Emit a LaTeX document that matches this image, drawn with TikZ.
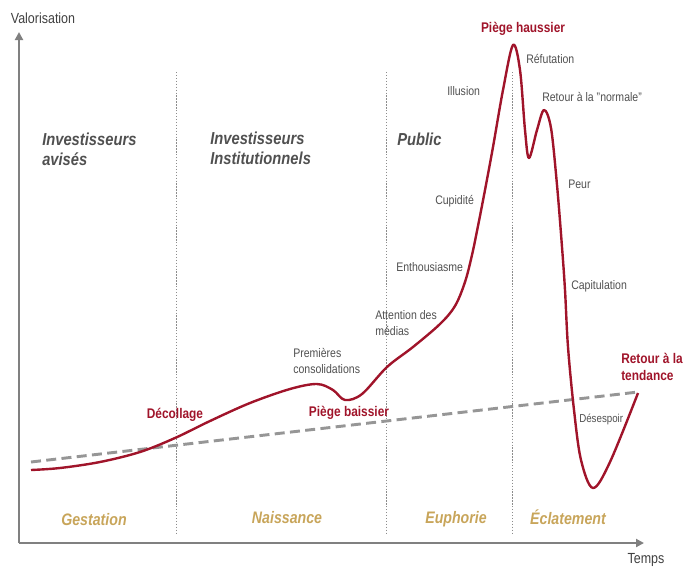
\documentclass[tikz,border=0pt]{standalone}
\usepackage{fontspec}
\setmainfont{Liberation Sans}[FakeStretch=0.85]
\usetikzlibrary{arrows.meta}
\definecolor{axisgray}{RGB}{128,128,128}
\definecolor{trendgray}{RGB}{150,150,150}
\definecolor{curvered}{RGB}{160,20,42}
\definecolor{labelgray}{RGB}{80,80,80}
\definecolor{gold}{RGB}{200,165,90}
\definecolor{dotgray}{RGB}{140,140,140}
\tikzset{
  axisline/.style={draw=axisgray, line width=1.9pt, -{Triangle[width=6pt,length=6pt]}},
  sepline/.style={draw=dotgray, line width=0.6pt, dash pattern=on 1pt off 1.2pt},
  trendline/.style={draw=trendgray, line width=2.2pt, dash pattern=on 7.5pt off 4pt},
  bubble/.style={draw=curvered, line width=1.8pt, line join=round},
  grouplbl/.style={font=\fontsize{13}{15}\selectfont\bfseries\itshape, text=labelgray, align=left, inner sep=0pt, anchor=north west},
  phaselbl/.style={font=\fontsize{12.5}{14}\selectfont\bfseries\itshape, text=gold, inner sep=0pt},
  redlbl/.style={font=\fontsize{10.5}{12.5}\selectfont\bfseries, text=curvered, inner sep=0pt, align=left},
  graylbl/.style={font=\fontsize{9.3}{11.5}\selectfont, text=labelgray, inner sep=0pt, align=left, anchor=west},
  axislbl/.style={font=\fontsize{11}{13}\selectfont, text=black!75, inner sep=0pt},
}
\begin{document}
\begin{tikzpicture}[x=0.75pt,y=-0.75pt]
\useasboundingbox (0,0) rectangle (685,568);
% axes
\coordinate (O) at (19,543);
\coordinate (ytop) at (19,32);
\coordinate (xend) at (644,543);
\draw[axisline] (O) -- (ytop);
\draw[axisline] (O) -- (xend);
\node[axislbl] (val) at (43,18) {Valorisation};
\node[axislbl] (temps) at (646,560) {Temps};
% separators
\foreach \n/\x in {s1/176,s2/386,s3/512}{
  \coordinate (\n t) at (\x,72);
  \coordinate (\n b) at (\x,533);
  \draw[sepline] (\n t) -- (\n b);
}
% group labels
\node[grouplbl] (g1) at (42,133) {Investisseurs\\avisés};
\node[grouplbl] (g2) at (210,132) {Investisseurs\\Institutionnels};
\node[grouplbl] (g3) at (397,133) {Public};
% phase labels
\node[phaselbl] (p1) at (94,520) {Gestation};
\node[phaselbl] (p2) at (287,518) {Naissance};
\node[phaselbl] (p3) at (456,519) {Euphorie};
\node[phaselbl] (p4) at (568,517) {Éclatement};
% trend
\coordinate (tr1) at (31,462);
\coordinate (tr2) at (638,392);
\draw[trendline] (tr1) -- (tr2);
% bubble curve
\draw[bubble] plot[smooth, tension=0.55] coordinates {
 (31,470) (60,468) (100,462) (140,452) (175,438) (210,421) (250,403)
 (290,389) (317,384) (333,390) (345,400) (362,394) (387,367) (413,347)
 (440,324) (455,306) (465,282) (472,255) (478,226) (485,190) (493,147)
 (503,90) (513,45) (520,70) (525,130) (529,158) (537,130) (544,110)
 (551,128) (557,185) (562,247) (565,290) (568,347) (574,410) (581,460)
 (593,488) (610,462) (638,393)};
% red labels
\node[redlbl] (ph) at (523,29) {Piège haussier};
\node[redlbl] (dec) at (175,415) {Décollage};
\node[redlbl] (pb) at (349,413) {Piège baissier};
\node[redlbl, anchor=west] (rt) at (621,367) {Retour à la\\tendance};
% gray labels
\node[graylbl] (l1) at (526,59) {Réfutation};
\node[graylbl] (l2) at (542,97) {Retour à la "normale"};
\node[graylbl] (l3) at (447,91) {Illusion};
\node[graylbl] (l4) at (435,201) {Cupidité};
\node[graylbl] (l5) at (396,267) {Enthousiasme};
\node[graylbl] (l6) at (375,323) {Attention des\\médias};
\node[graylbl] (l7) at (568,184) {Peur};
\node[graylbl] (l8) at (571,286) {Capitulation};
\node[graylbl] (l9) at (293,361) {Premières\\consolidations};
\node[graylbl, font=\fontsize{8.6}{10}\selectfont] (l10) at (579,419) {Désespoir};
\end{tikzpicture}
\end{document}
